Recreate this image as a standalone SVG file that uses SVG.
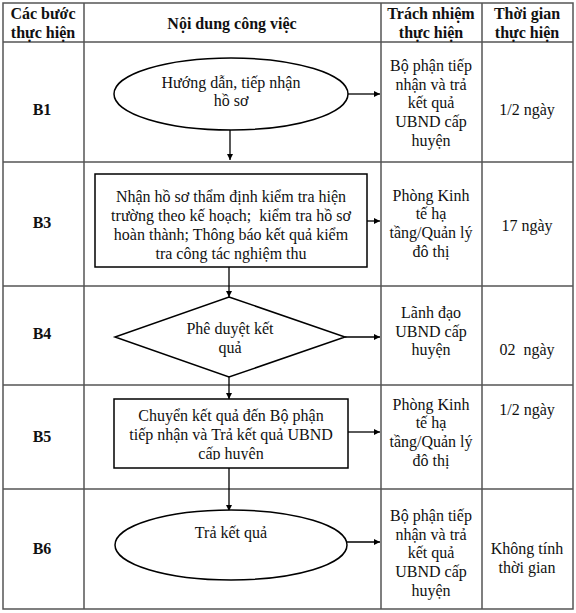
<svg xmlns="http://www.w3.org/2000/svg" width="576" height="613" viewBox="0 0 576 613">
<defs>
<style>
.grid{stroke:#555;stroke-width:1.5;fill:none}
.shape{stroke:#000;stroke-width:1.5;fill:#fff}
.conn{stroke:#000;stroke-width:1.3;fill:none}
text{font-family:"Liberation Serif","Times New Roman",serif;font-size:16px;fill:#111;text-anchor:middle}
.b{font-weight:bold}
</style>
<marker id="ah" viewBox="0 0 10 10" refX="10" refY="5" markerWidth="6" markerHeight="6" markerUnits="userSpaceOnUse" orient="auto">
<path d="M0,0 L10,5 L0,10 z" fill="#000"/>
</marker>
<clipPath id="clipB5"><rect x="114" y="399" width="234" height="61"/></clipPath>
</defs>
<rect width="576" height="613" fill="#fff"/>
<g id="table">
<rect class="grid" x="3" y="3" width="570" height="606"/>
<line class="grid" x1="84" y1="3" x2="84" y2="609"/>
<line class="grid" x1="381" y1="3" x2="381" y2="609"/>
<line class="grid" x1="482" y1="3" x2="482" y2="609"/>
<line class="grid" x1="3" y1="42" x2="573" y2="42"/>
<line class="grid" x1="3" y1="162" x2="573" y2="162"/>
<line class="grid" x1="3" y1="286" x2="573" y2="286"/>
<line class="grid" x1="3" y1="385" x2="573" y2="385"/>
<line class="grid" x1="3" y1="489" x2="573" y2="489"/>
</g>
<g id="header">
<text class="b" x="43" y="19">Các bước</text>
<text class="b" x="43" y="38">thực hiện</text>
<text class="b" x="232" y="29">Nội dung công việc</text>
<text class="b" x="431" y="19">Trách nhiệm</text>
<text class="b" x="431" y="38">thực hiện</text>
<text class="b" x="527" y="19">Thời gian</text>
<text class="b" x="527" y="38">thực hiện</text>
</g>
<g id="steps">
<text class="b" x="42" y="115">B1</text>
<text class="b" x="42" y="228">B3</text>
<text class="b" x="42" y="339">B4</text>
<text class="b" x="42" y="442">B5</text>
<text class="b" x="42" y="554">B6</text>
</g>
<g id="responsible">
<text x="431" y="71">Bộ phận tiếp</text>
<text x="431" y="90">nhận và trả</text>
<text x="431" y="108">kết quả</text>
<text x="431" y="127">UBND cấp</text>
<text x="431" y="146">huyện</text>
<text x="431" y="201">Phòng Kinh</text>
<text x="431" y="219">tế hạ</text>
<text x="431" y="238">tầng/Quản lý</text>
<text x="431" y="257">đô thị</text>
<text x="431" y="318">Lãnh đạo</text>
<text x="431" y="337">UBND cấp</text>
<text x="431" y="355">huyện</text>
<text x="431" y="410">Phòng Kinh</text>
<text x="431" y="428">tế hạ</text>
<text x="431" y="447">tầng/Quản lý</text>
<text x="431" y="466">đô thị</text>
<text x="431" y="521">Bộ phận tiếp</text>
<text x="431" y="540">nhận và trả</text>
<text x="431" y="558">kết quả</text>
<text x="431" y="577">UBND cấp</text>
<text x="431" y="596">huyện</text>
</g>
<g id="time">
<text x="527" y="115">1/2 ngày</text>
<text x="527" y="231">17 ngày</text>
<text x="527" y="355" xml:space="preserve">02  ngày</text>
<text x="527" y="415">1/2 ngày</text>
<text x="527" y="554">Không tính</text>
<text x="527" y="573">thời gian</text>
</g>
<g id="connectors">
<line class="conn" x1="348" y1="94" x2="380" y2="94" marker-end="url(#ah)"/>
<line class="conn" x1="230" y1="130" x2="230" y2="160" marker-end="url(#ah)"/>
<line class="conn" x1="367" y1="221" x2="380" y2="221" marker-end="url(#ah)"/>
<line class="conn" x1="229" y1="267" x2="229" y2="297" marker-end="url(#ah)"/>
<line class="conn" x1="345" y1="337" x2="380" y2="337" marker-end="url(#ah)"/>
<line class="conn" x1="229" y1="377" x2="229" y2="399" marker-end="url(#ah)"/>
<line class="conn" x1="348" y1="432" x2="380" y2="432" marker-end="url(#ah)"/>
<line class="conn" x1="229" y1="468" x2="229" y2="511" marker-end="url(#ah)"/>
<line class="conn" x1="347" y1="542" x2="380" y2="542" marker-end="url(#ah)"/>
</g>
<g id="node-b1">
<ellipse class="shape" cx="231" cy="94" rx="117" ry="36"/>
<text x="231" y="88">Hướng dẫn, tiếp nhận</text>
<text x="231" y="106">hồ sơ</text>
</g>
<g id="node-b3">
<rect class="shape" x="95" y="174" width="272" height="93"/>
<text x="231" y="202">Nhận hồ sơ thẩm định kiểm tra hiện</text>
<text x="231" y="221" xml:space="preserve">trường theo kế hoạch;  kiểm tra hồ sơ</text>
<text x="231" y="240">hoàn thành; Thông báo kết quả kiểm</text>
<text x="231" y="259">tra công tác nghiệm thu</text>
</g>
<g id="node-b4">
<polygon class="shape" points="229,297 345,337 229,377 115,337"/>
<text x="230" y="334">Phê duyệt kết</text>
<text x="230" y="353">quả</text>
</g>
<g id="node-b5">
<rect class="shape" x="114" y="399" width="234" height="69"/>
<g clip-path="url(#clipB5)">
<text x="231" y="421">Chuyển kết quả đến Bộ phận</text>
<text x="231" y="440">tiếp nhận và Trả kết quả UBND</text>
<text x="231" y="459">cấp huyện</text>
</g>
</g>
<g id="node-b6">
<ellipse class="shape" cx="231" cy="545" rx="116" ry="35"/>
<text x="231" y="538">Trả kết quả</text>
</g>
</svg>
